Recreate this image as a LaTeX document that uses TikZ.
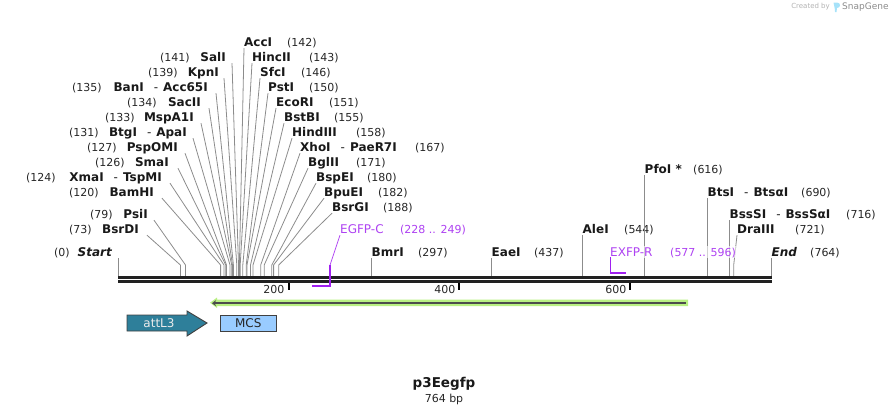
\documentclass[tikz,border=0pt]{standalone}
\usepackage{fontspec}
\setmainfont{DejaVu Sans}
\usepackage{xcolor}
\definecolor{primer}{HTML}{A020F0}
\definecolor{attteal}{HTML}{2E7F9A}
\definecolor{mcsblue}{HTML}{99CCFF}
\definecolor{orflime}{HTML}{B9F083}
\usetikzlibrary{arrows.meta}
\tikzset{enz/.style={anchor=west,inner sep=0pt,text height=10pt,text depth=2pt,font=\fontsize{12}{12}\selectfont\bfseries,text=black!90},
  enzl/.style={enz,anchor=east},
  loc/.style={anchor=west,inner sep=0pt,text height=10pt,text depth=2pt,font=\fontsize{11}{12}\selectfont,text=black!85},
  cut/.style={draw=black!45,line width=0.8pt},
  rail/.style={draw=black!87,line width=3pt},
  tick/.style={draw=black,line width=2pt},
  scalelab/.style={anchor=east,inner sep=0pt,font=\fontsize{11}{12}\selectfont,text=black!85},
  prim/.style={loc,text=primer!85,fill=white,fill opacity=0.6,text opacity=1},
  primname/.style={prim,font=\fontsize{12}{12}\selectfont},
  primline/.style={draw=primer,line width=1.4pt},
  feat/.style={draw=black!75,line width=0.9pt}}
\newcommand{\dashsep}{\hspace{10pt}{\mdseries -}\hspace{5pt}}
\begin{document}
\begin{tikzpicture}[x=1pt,y=-1pt]
\useasboundingbox (0,0) rectangle (890,415);
\coordinate (rail) at (118,277); \coordinate (railend) at (771.5,277);
\coordinate (lowrail) at (118,281.5); \coordinate (lowrailend) at (771.5,281.5);
% left fan
\node[enzl] (SalI) at (226,57) {SalI}; \node[loc] (SalIn) at (160,57) {(141)}; \coordinate (SalIs) at (238.5,265); \draw[cut] ([xshift=6pt]SalI.south east) -- (SalIs) -- (SalIs |- rail);
\node[enzl] (KpnI) at (219,72) {KpnI}; \node[loc] (KpnIn) at (148,72) {(139)}; \coordinate (KpnIs) at (236.8,265); \draw[cut] ([xshift=5pt]KpnI.south east) -- (KpnIs) -- (KpnIs |- rail);
\node[enzl] (BanI) at (208,87) {BanI\dashsep Acc65I}; \node[loc] (BanIn) at (72,87) {(135)}; \coordinate (BanIs) at (233.4,265); \draw[cut] ([xshift=8pt]BanI.south east) -- (BanIs) -- (BanIs |- rail);
\node[enzl] (SacII) at (201,102) {SacII}; \node[loc] (SacIIn) at (127,102) {(134)}; \coordinate (SacIIs) at (232.5,265); \draw[cut] ([xshift=8pt]SacII.south east) -- (SacIIs) -- (SacIIs |- rail);
\node[enzl] (MspAI) at (194,117) {MspA1I}; \node[loc] (MspAIn) at (105,117) {(133)}; \coordinate (MspAIs) at (231.7,265); \draw[cut] ([xshift=7pt]MspAI.south east) -- (MspAIs) -- (MspAIs |- rail);
\node[enzl] (BtgI) at (187,132) {BtgI\dashsep ApaI}; \node[loc] (BtgIn) at (69,132) {(131)}; \coordinate (BtgIs) at (230,265); \draw[cut] ([xshift=6pt]BtgI.south east) -- (BtgIs) -- (BtgIs |- rail);
\node[enzl] (PspOMI) at (178,147) {PspOMI}; \node[loc] (PspOMIn) at (87,147) {(127)}; \coordinate (PspOMIs) at (226.5,265); \draw[cut] ([xshift=7pt]PspOMI.south east) -- (PspOMIs) -- (PspOMIs |- rail);
\node[enzl] (SmaI) at (169,162) {SmaI}; \node[loc] (SmaIn) at (95,162) {(126)}; \coordinate (SmaIs) at (225.7,265); \draw[cut] ([xshift=9pt]SmaI.south east) -- (SmaIs) -- (SmaIs |- rail);
\node[enzl] (XmaI) at (162,177) {XmaI\dashsep TspMI}; \node[loc] (XmaIn) at (26,177) {(124)}; \coordinate (XmaIs) at (224,265); \draw[cut] ([xshift=8pt]XmaI.south east) -- (XmaIs) -- (XmaIs |- rail);
\node[enzl] (BamHI) at (154,192) {BamHI}; \node[loc] (BamHIn) at (69,192) {(120)}; \coordinate (BamHIs) at (220.6,265); \draw[cut] ([xshift=8pt]BamHI.south east) -- (BamHIs) -- (BamHIs |- rail);
\node[enzl] (PsiI) at (148,214) {PsiI}; \node[loc] (PsiIn) at (90,214) {(79)}; \coordinate (PsiIs) at (185.5,265); \draw[cut] ([xshift=6pt]PsiI.south east) -- (PsiIs) -- (PsiIs |- rail);
\node[enzl] (BsrDI) at (139,229) {BsrDI}; \node[loc] (BsrDIn) at (69,229) {(73)}; \coordinate (BsrDIs) at (180.4,265); \draw[cut] ([xshift=8pt]BsrDI.south east) -- (BsrDIs) -- (BsrDIs |- rail);
% right fan
\node[enz] (AccI) at (244,42) {AccI}; \node[loc] (AccIn) at (287,42) {(142)}; \coordinate (AccIs) at (239.4,265); \draw[cut] (AccI.south west) -- (AccIs) -- (AccIs |- rail);
\node[enz] (HincII) at (252,57) {HincII}; \node[loc] (HincIIn) at (309,57) {(143)}; \coordinate (HincIIs) at (240.2,265); \draw[cut] (HincII.south west) -- (HincIIs) -- (HincIIs |- rail);
\node[enz] (SfcI) at (260,72) {SfcI}; \node[loc] (SfcIn) at (301,72) {(146)}; \coordinate (SfcIs) at (242.8,265); \draw[cut] (SfcI.south west) -- (SfcIs) -- (SfcIs |- rail);
\node[enz] (PstI) at (268,87) {PstI}; \node[loc] (PstIn) at (309,87) {(150)}; \coordinate (PstIs) at (246.2,265); \draw[cut] (PstI.south west) -- (PstIs) -- (PstIs |- rail);
\node[enz] (EcoRI) at (276,102) {EcoRI}; \node[loc] (EcoRIn) at (329,102) {(151)}; \coordinate (EcoRIs) at (247,265); \draw[cut] (EcoRI.south west) -- (EcoRIs) -- (EcoRIs |- rail);
\node[enz] (BstBI) at (284,117) {BstBI}; \node[loc] (BstBIn) at (334,117) {(155)}; \coordinate (BstBIs) at (250.5,265); \draw[cut] (BstBI.south west) -- (BstBIs) -- (BstBIs |- rail);
\node[enz] (HindIII) at (292,132) {HindIII}; \node[loc] (HindIIIn) at (356,132) {(158)}; \coordinate (HindIIIs) at (253,265); \draw[cut] (HindIII.south west) -- (HindIIIs) -- (HindIIIs |- rail);
\node[enz] (XhoI) at (300,147) {XhoI\dashsep PaeR7I}; \node[loc] (XhoIn) at (415,147) {(167)}; \coordinate (XhoIs) at (260.7,265); \draw[cut] (XhoI.south west) -- (XhoIs) -- (XhoIs |- rail);
\node[enz] (BglII) at (308,162) {BglII}; \node[loc] (BglIIn) at (356,162) {(171)}; \coordinate (BglIIs) at (264.2,265); \draw[cut] (BglII.south west) -- (BglIIs) -- (BglIIs |- rail);
\node[enz] (BspEI) at (316,177) {BspEI}; \node[loc] (BspEIn) at (367,177) {(180)}; \coordinate (BspEIs) at (271.8,265); \draw[cut] (BspEI.south west) -- (BspEIs) -- (BspEIs |- rail);
\node[enz] (BpuEI) at (324,192) {BpuEI}; \node[loc] (BpuEIn) at (378,192) {(182)}; \coordinate (BpuEIs) at (273.6,265); \draw[cut] (BpuEI.south west) -- (BpuEIs) -- (BpuEIs |- rail);
\node[enz] (BsrGI) at (332,207) {BsrGI}; \node[loc] (BsrGIn) at (383,207) {(188)}; \coordinate (BsrGIs) at (278.7,265); \draw[cut] (BsrGI.south west) -- (BsrGIs) -- (BsrGIs |- rail);
% single cutters and ends
\node[enzl,font=\fontsize{12}{12}\selectfont\bfseries\itshape] (Start) at (112,252) {Start}; \node[loc] (Startn) at (54,252) {(0)}; \draw[cut] (Start.south east -| rail) -- (rail);
\node[enz,font=\fontsize{12}{12}\selectfont\bfseries\itshape] (End) at (771.5,252) {End}; \node[loc] (Endn) at (810,252) {(764)}; \draw[cut] (End.south west) -- (railend);
\node[enz] (BmrI) at (371.5,252) {BmrI}; \node[loc] (BmrIn) at (418,252) {(297)}; \draw[cut] (BmrI.south west) -- (BmrI.south west |- rail);
\node[enz] (EaeI) at (491.5,252) {EaeI}; \node[loc] (EaeIn) at (534,252) {(437)}; \draw[cut] (EaeI.south west) -- (EaeI.south west |- rail);
\node[enz] (AleI) at (582.5,229) {AleI}; \node[loc] (AleIn) at (624,229) {(544)}; \draw[cut] (AleI.south west) -- (AleI.south west |- rail);
\node[enz] (PfoI) at (644.5,169) {PfoI *}; \node[loc] (PfoIn) at (693,169) {(616)}; \draw[cut] (PfoI.south west) -- (PfoI.south west |- rail);
\node[enz] (BtsI) at (707.5,192) {BtsI\dashsep BtsαI}; \node[loc] (BtsIn) at (801,192) {(690)}; \draw[cut] (BtsI.south west) -- (BtsI.south west |- rail);
\node[enz] (BssSI) at (729.5,214) {BssSI\dashsep BssSαI}; \node[loc] (BssSIn) at (846,214) {(716)}; \draw[cut] (BssSI.south west) -- (BssSI.south west |- rail);
\node[enz] (DraIII) at (737,229) {DraIII}; \node[loc] (DraIIIn) at (795,229) {(721)}; \coordinate (DraIIIs) at (733.7,265); \draw[cut] (DraIII.south west) -- (DraIIIs) -- (DraIIIs |- rail);
% backbone and scale
\draw[rail] (rail) -- (railend); \draw[rail] (lowrail) -- (lowrailend);
\coordinate (t200) at (288.5,283); \coordinate (t400) at (459,283); \coordinate (t600) at (630,283);
\draw[tick] (t200) -- ++(0,7); \draw[tick] (t400) -- ++(0,7); \draw[tick] (t600) -- ++(0,7);
\node[scalelab] (s200) at (284.5,289) {200}; \node[scalelab] (s400) at (455.5,289) {400}; \node[scalelab] (s600) at (626.5,289) {600};
% primers
\coordinate (egfpb) at (330,265); \coordinate (egfpk) at (330,286); \coordinate (egfpe) at (312,286);
\coordinate (exfpt) at (610.7,257); \coordinate (exfpk) at (610.7,273); \coordinate (exfpe) at (626,273);
\node[primname] (egfp) at (340,229) {EGFP-C}; \node[prim] (egfpn) at (400,229) {(228 .. 249)};
\node[primname] (exfp) at (610,252) {EXFP-R}; \node[prim] (exfpn) at (670,252) {(577 .. 596)};
\draw[primer!80,line width=0.8pt] (egfp.south west) -- (egfpb); \draw[primline] (egfpb) -- (egfpk) -- (egfpe);
\draw[primline] (exfpt) -- (exfpk) -- (exfpe);
% features
\fill[orflime] (210,302.8) -- (217,297.5) -- (217,299.7) -- (688,299.7) -- (688,306) -- (217,306) -- (217,308) -- cycle;
\coordinate (orfl) at (212,303.2); \coordinate (orfr) at (686,303.2);
\draw[draw=black!70,line width=2pt,{Stealth[length=4pt,width=6pt]}-] (orfl) -- (orfr);
\path[feat,fill=attteal] (127,315) -- (187,315) -- (187,311) -- (207,323) -- (187,336) -- (187,331) -- (127,331) -- cycle;
\node[inner sep=0pt,text=white!92!black,font=\fontsize{12}{12}\selectfont] (attL) at (159,323) {attL3};
\node[feat,fill=mcsblue,minimum width=56.5pt,minimum height=16pt,inner sep=0pt,text=black!85,font=\fontsize{12}{12}\selectfont] (MCS) at (248.3,323) {MCS};
% title
\node[inner sep=0pt,font=\fontsize{13.5}{14}\selectfont\bfseries,text=black!90] (title) at (444,384) {p3Eegfp};
\node[inner sep=0pt,font=\fontsize{11}{12}\selectfont,text=black!85] (size) at (444,399) {764 bp};
% logo
\node[anchor=east,inner sep=0pt,font=\fontsize{7}{8}\selectfont,text=black!30] (made) at (830,7) {Created by};
\fill[cyan!35] (833.5,2.5) -- (837,2.5) .. controls (841,2.5) and (841,8) .. (837,8) -- (836.5,12) -- (835,12) .. controls (835,8) and (834,6) .. cycle;
\node[anchor=west,inner sep=0pt,font=\fontsize{9}{10}\selectfont,text=black!45] (snap) at (842,7) {SnapGene};
\end{tikzpicture}
\end{document}
